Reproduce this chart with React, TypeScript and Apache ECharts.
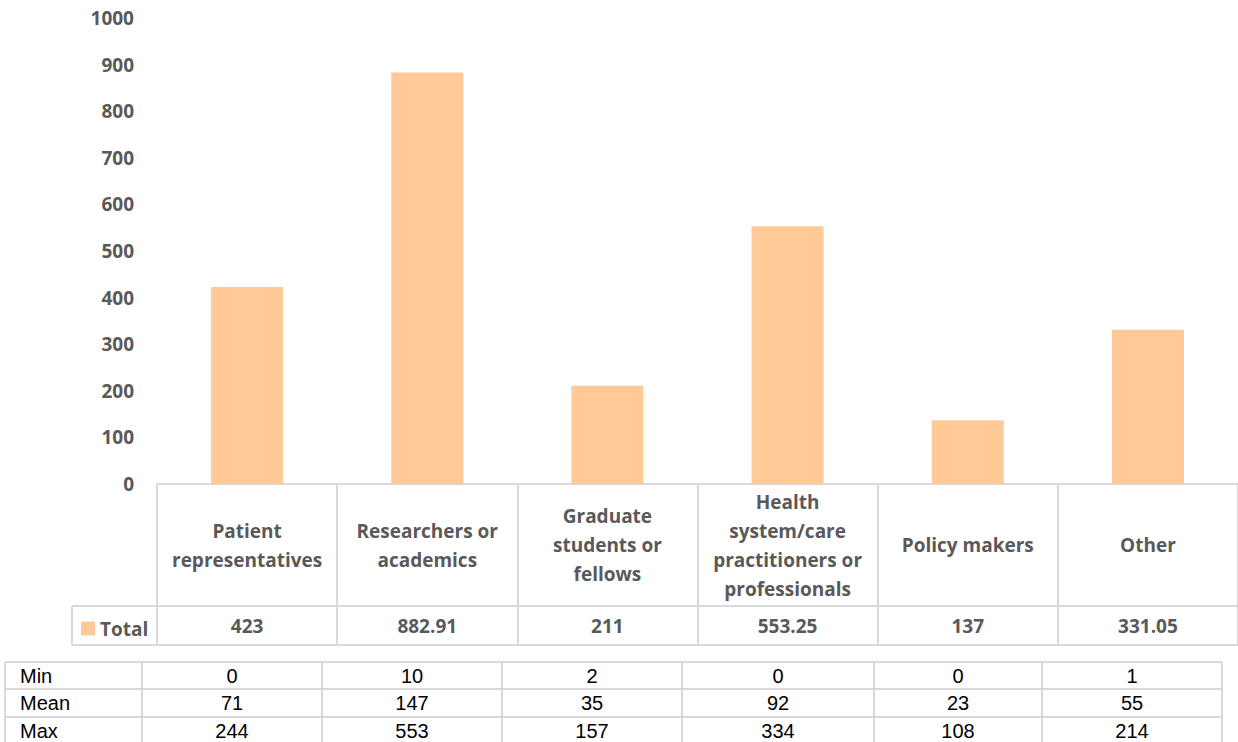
import React, { useEffect, useRef } from "react";
import * as echarts from "echarts";

// Audience categories (line breaks as shown on the axis)
const categories: string[] = [
  "Patient\nrepresentatives",
  "Researchers or\nacademics",
  "Graduate\nstudents or\nfellows",
  "Health\nsystem/care\npractitioners or\nprofessionals",
  "Policy makers",
  "Other",
];

// Total per category
const totals: number[] = [423, 882.91, 211, 553.25, 137, 331.05];

// Summary statistics per category
const minValues: number[] = [0, 10, 2, 0, 0, 1];
const meanValues: number[] = [71, 147, 35, 92, 23, 55];
const maxValues: number[] = [244, 553, 157, 334, 108, 214];
const statRows: { label: string; values: number[] }[] = [
  { label: "Min", values: minValues },
  { label: "Mean", values: meanValues },
  { label: "Max", values: maxValues },
];

const yTicks = { min: 0, max: 1000, interval: 100 };

const GRAY = "#595959";
const LINE = "#d9d9d9";
const BAR = "#ffca97";
const FONT = "'Open Sans', Lato, sans-serif";
const TABLE_FONT = "20px 'Liberation Sans', Arial, sans-serif";

// Layout of the plot and the tables underneath
const GRID_LEFT = 157;
const GRID_TOP = 18;
const GRID_WIDTH = 1086;
const GRID_HEIGHT = 466;
const CAT_ROW_H = 122;
const TOTAL_ROW_H = 39;

const STAT_COLS = [5, 142, 322, 502, 682, 874, 1042, 1222];
const STAT_ROWS_Y = [662, 689, 717, 744];

function buildStatTable(): any[] {
  const els: any[] = [];
  const lineStyle = { stroke: LINE, lineWidth: 2 };
  STAT_ROWS_Y.forEach((y) => {
    els.push({
      type: "line",
      shape: { x1: STAT_COLS[0], y1: y, x2: STAT_COLS[STAT_COLS.length - 1], y2: y },
      style: lineStyle,
      silent: true,
    });
  });
  STAT_COLS.forEach((x) => {
    els.push({
      type: "line",
      shape: { x1: x, y1: STAT_ROWS_Y[0], x2: x, y2: STAT_ROWS_Y[STAT_ROWS_Y.length - 1] },
      style: lineStyle,
      silent: true,
    });
  });
  statRows.forEach((row, r) => {
    const cy = (STAT_ROWS_Y[r] + STAT_ROWS_Y[r + 1]) / 2;
    els.push({
      type: "text",
      x: STAT_COLS[0] + 15,
      y: cy,
      style: {
        text: row.label,
        fill: "#000",
        font: TABLE_FONT,
        textAlign: "left",
        textVerticalAlign: "middle",
      },
      silent: true,
    });
    row.values.forEach((v, c) => {
      els.push({
        type: "text",
        x: (STAT_COLS[c + 1] + STAT_COLS[c + 2]) / 2,
        y: cy,
        style: {
          text: String(v),
          fill: "#000",
          font: TABLE_FONT,
          textAlign: "center",
          textVerticalAlign: "middle",
        },
        silent: true,
      });
    });
  });
  return els;
}

export default function App() {
  const ref = useRef<HTMLDivElement>(null);

  useEffect(() => {
    document.body.style.margin = "0";
    if (!ref.current) return;
    const chart = echarts.init(ref.current, null, { renderer: "svg" });
    const axisBottom = GRID_TOP + GRID_HEIGHT;
    const totalTop = axisBottom + CAT_ROW_H;
    const totalBottom = totalTop + TOTAL_ROW_H;
    const lineStyle = { stroke: LINE, lineWidth: 2 };

    chart.setOption({
      animation: false,
      textStyle: { fontFamily: FONT },
      grid: {
        left: GRID_LEFT,
        top: GRID_TOP,
        width: GRID_WIDTH,
        height: GRID_HEIGHT,
        containLabel: false,
      },
      legend: {
        show: true,
        left: 81,
        top: totalTop + 13,
        itemWidth: 14,
        itemHeight: 14,
        itemGap: 5,
        padding: 0,
        icon: "rect",
        textStyle: {
          color: GRAY,
          fontWeight: "bold",
          fontSize: 19,
          fontFamily: FONT,
          padding: [0, 0, 0, 0],
        },
        data: ["Total"],
      },
      xAxis: [
        {
          type: "category",
          data: categories,
          position: "bottom",
          axisLine: { show: true, lineStyle: { color: LINE, width: 2 } },
          axisTick: {
            show: true,
            interval: 0,
            length: CAT_ROW_H + TOTAL_ROW_H,
            lineStyle: { color: LINE, width: 2 },
          },
          axisLabel: {
            interval: 0,
            margin: CAT_ROW_H / 2,
            verticalAlign: "middle",
            color: GRAY,
            fontWeight: "bold",
            fontSize: 19,
            lineHeight: 29,
            fontFamily: FONT,
          },
          splitLine: { show: false },
        },
        {
          type: "category",
          data: totals.map((v) => String(v)),
          position: "bottom",
          offset: CAT_ROW_H,
          axisLine: { show: true, lineStyle: { color: LINE, width: 2 } },
          axisTick: { show: false },
          axisLabel: {
            interval: 0,
            margin: TOTAL_ROW_H / 2,
            verticalAlign: "middle",
            color: GRAY,
            fontWeight: "bold",
            fontSize: 19,
            fontFamily: FONT,
          },
          splitLine: { show: false },
        },
      ],
      yAxis: {
        type: "value",
        min: yTicks.min,
        max: yTicks.max,
        interval: yTicks.interval,
        axisLine: { show: false },
        axisTick: { show: false },
        splitLine: { show: false },
        axisLabel: {
          margin: 23,
          color: GRAY,
          fontWeight: "bold",
          fontSize: 19,
          fontFamily: FONT,
          formatter: (v: number) => String(v),
        },
      },
      series: [
        {
          name: "Total",
          type: "bar",
          xAxisIndex: 0,
          data: totals,
          barWidth: "40%",
          itemStyle: { color: BAR },
        },
      ],
      graphic: [
        // left part of the "Total" row
        {
          type: "line",
          shape: { x1: 72, y1: totalTop, x2: GRID_LEFT, y2: totalTop },
          style: lineStyle,
          silent: true,
        },
        {
          type: "line",
          shape: { x1: 72, y1: totalBottom, x2: GRID_LEFT + GRID_WIDTH, y2: totalBottom },
          style: lineStyle,
          silent: true,
        },
        {
          type: "line",
          shape: { x1: 72, y1: totalTop, x2: 72, y2: totalBottom },
          style: lineStyle,
          silent: true,
        },
        ...buildStatTable(),
      ],
    });

    return () => chart.dispose();
  }, []);

  return (
    <div
      ref={ref}
      style={{ position: "absolute", left: 0, top: 0, width: 1238, height: 742 }}
    />
  );
}
